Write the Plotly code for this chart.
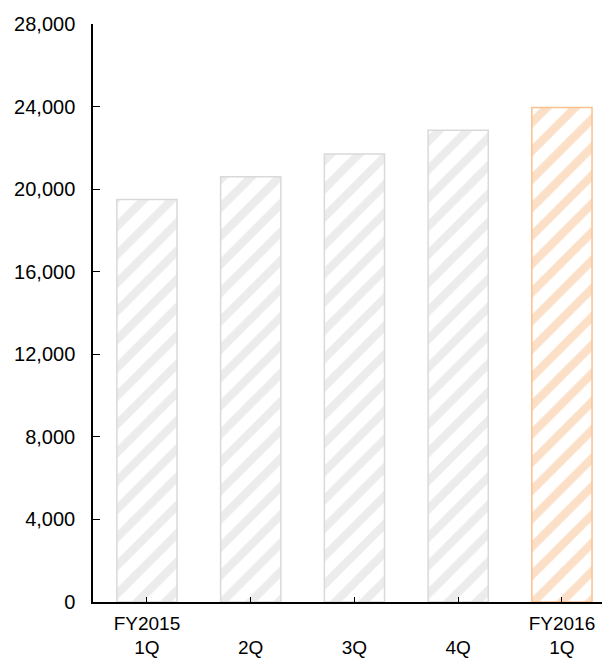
import plotly.graph_objects as go

quarters = ["FY2015<br>1Q", "<br>2Q", "<br>3Q", "<br>4Q", "FY2016<br>1Q"]
values = [19500, 20600, 21700, 22850, 23950]
y_ticks = [0, 4000, 8000, 12000, 16000, 20000, 24000, 28000]

gray = "#d9d9d9"
orange = "#fac090"
colors = [gray, gray, gray, gray, orange]

fig = go.Figure(
    go.Bar(
        x=list(range(len(quarters))),
        y=values,
        width=0.58,
        marker=dict(
            color="white",
            line=dict(color=colors, width=1.5),
            pattern=dict(
                shape="/",
                fgcolor=colors,
                bgcolor="white",
                size=20,
                solidity=0.42,
                fillmode="overlay",
            ),
        ),
    )
)

fig.update_layout(
    width=602,
    height=662,
    margin=dict(l=93, r=0, t=24, b=60, autoexpand=False),
    plot_bgcolor="white",
    paper_bgcolor="white",
    showlegend=False,
    font=dict(family="Liberation Sans, Arial, sans-serif", size=20, color="black"),
    xaxis=dict(
        range=[-0.52, 4.386],
        tickmode="array",
        tickvals=list(range(len(quarters))),
        ticktext=quarters,
        tickfont=dict(size=19),
        showline=True,
        linecolor="black",
        linewidth=1.5,
        ticks="inside",
        tickson="boundaries",
        ticklen=5,
        tickcolor="black",
        showgrid=False,
        zeroline=False,
        ticklabelstandoff=3,
        automargin=False,
    ),
    yaxis=dict(
        range=[0, 28000],
        tickmode="array",
        tickvals=y_ticks,
        ticktext=[f"{v:,}" for v in y_ticks],
        showline=True,
        linecolor="black",
        linewidth=1.5,
        ticks="inside",
        ticklen=7,
        tickcolor="black",
        showgrid=False,
        zeroline=False,
        ticklabelstandoff=12,
        automargin=False,
    ),
)

fig.write_html("out.html")
